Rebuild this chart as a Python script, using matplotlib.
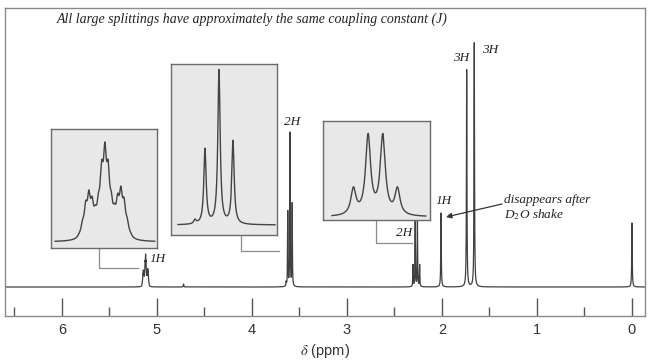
import numpy as np
import matplotlib
matplotlib.use("Agg")
import matplotlib.pyplot as plt

plt.rcParams['mathtext.fontset'] = 'stix'

W, H = 650, 362
MHZ = 300.0          # spectrometer frequency, Hz per ppm

# main spectrum: singlets (ppm, height in px above baseline)
singlet_ppm = [0.00, 1.66, 1.74, 2.01, 4.72]
singlet_h = [64, 244, 217, 74, 3]

# multiplets: offsets in Hz, relative intensities
m1_off = [7, 0, -7]                     # 5.12 ppm, triplet of septets
m1_int = [0.50, 1.0, 0.54]
sept_off = [-4.2, -2.8, -1.4, 0, 1.4, 2.8, 4.2]
sept_int = [1, 6, 15, 20, 15, 6, 1]
m2_off = [12, 7, 0, -7]                  # 3.60 ppm triplet
m2_int = [4, 75, 154, 83]
m3_off = [10.5, 3.5, -3.5, -10.5]        # 2.27 ppm quartet
m3_int = [26, 79, 79, 26]

multiplet_ppm = [5.12, 3.60, 2.27]
multiplet_h = [33, 155, 67]

ticks = [0, 1, 2, 3, 4, 5, 6]
minor_ticks = [0.5, 1.5, 2.5, 3.5, 4.5, 5.5, 6.5]


def lorentz(x, x0, a, g):
    return a * g**2 / (g**2 + (x - x0)**2)


def multiplet(x, offs, ints, g, fine=None):
    y = np.zeros_like(x)
    for o, a in zip(offs, ints):
        if fine is None:
            y += lorentz(x, o, a, g)
        else:
            for fo, fa in zip(*fine):
                y += lorentz(x, o + fo, a * fa, g)
    return y


fig = plt.figure(figsize=(W / 100, H / 100), dpi=100)


def box(x0, y0, x1, y1):
    return [x0 / W, (H - y1) / H, (x1 - x0) / W, (y1 - y0) / H]


ax = fig.add_axes(box(5, 8, 645, 316))
ax.set_xlim(6.6, -0.137)
ax.set_ylim(-29, 279)

# --- main trace
x = np.linspace(-0.137, 6.6, 60000)
g_main = 0.003
y = np.zeros_like(x)
for p, h in zip(singlet_ppm, singlet_h):
    y += lorentz(x, p, h, g_main)

specs = [(m1_off, m1_int, (sept_off, sept_int)),
         (m2_off, m2_int, None),
         (m3_off, m3_int, None)]
for p, h, (offs, ints, fine) in zip(multiplet_ppm, multiplet_h, specs):
    hz = (x - p) * MHZ
    sel = np.abs(hz) < 60
    m = multiplet(hz[sel], offs, ints, g_main * MHZ * 0.8, fine)
    y[sel] += m / m.max() * h

ax.plot(x, y, color='#404040', lw=0.9)

for s in ax.spines.values():
    s.set_color('#8a8a8a')
    s.set_linewidth(1)
ax.set_yticks([])
ax.set_xticks(ticks)
ax.set_xticks(minor_ticks, minor=True)
ax.tick_params(axis='x', which='major', direction='in', length=13, width=1,
               color='#555555', pad=5, labelsize=10.5, labelcolor='#333333')
ax.tick_params(axis='x', which='minor', direction='in', length=6.5, width=1,
               color='#555555')
for t in ax.get_xticklabels():
    t.set_family('Liberation Sans')
ax.set_xlabel(r'$\delta$ (ppm)', fontsize=10.5, family='Liberation Sans',
              color='#333333', labelpad=4)


def px(xp, yp):
    # figure pixel -> main data coords
    return 6 - (xp - 62) / 95.0, 287 - yp


serif = dict(family='Liberation Serif', style='italic', fontsize=9.5,
             color='#222222')

fig.text(57 / W, 1 - 19 / H,
         'All large splittings have approximately the same coupling constant (J)',
         ha='left', va='center', family='Liberation Serif', style='italic',
         fontsize=10, color='#222222')

labels = [('3H', 461, 58), ('3H', 490, 50), ('2H', 292, 122),
          ('2H', 404, 233), ('1H', 444, 201), ('1H', 158, 259)]
for txt, xp, yp in labels:
    ax.text(*px(xp, yp), txt, ha='center', va='center', **serif)

ax.text(*px(504, 200), 'disappears after', ha='left', va='center', **serif)
ax.text(*px(504, 215), r'D$_2$O shake', ha='left', va='center', **serif)
ax.annotate('', xy=px(446, 217), xytext=px(502, 204),
            arrowprops=dict(arrowstyle='-|>', color='#333333', lw=0.9,
                            mutation_scale=8, shrinkA=0, shrinkB=0))

# connectors from insets to peaks
conn = [[(99, 248), (99, 268), (138, 268)],
        [(241, 235), (241, 251), (279, 251)],
        [(376, 220), (376, 243), (412, 243)]]
for pts in conn:
    cx, cy = zip(*[px(a, b) for a, b in pts])
    ax.plot(cx, cy, color='#8a8a8a', lw=0.9, clip_on=False)

# --- insets
insets = [
    (box(51, 129, 157, 248), (23.6, -22.8), (-6, 113), 21.8, -21.8,
     m1_off, m1_int, (sept_off, sept_int), 0.8, 100),
    (box(171, 64, 277, 235), (24, -29), (-10, 161), 20.5, -28,
     m2_off, m2_int, None, 0.7, None),
    (box(323, 121, 430, 220), (25, -26), (-3, 96), 20.7, -24,
     m3_off, m3_int, None, 1.45, None),
]
for pos, xl, yl, xa, xb, offs, ints, fine, g, peak in insets:
    ia = fig.add_axes(pos)
    ia.set_facecolor('#e8e8e8')
    for s in ia.spines.values():
        s.set_color('#6a6a6a')
        s.set_linewidth(1)
    ia.set_xticks([])
    ia.set_yticks([])
    ia.set_xlim(*xl)
    ia.set_ylim(*yl)
    hz = np.linspace(xb, xa, 1500)
    m = multiplet(hz, offs, ints, g, fine)
    if peak is not None:
        m = m / m.max() * peak
    ia.plot(hz, m, color='#444444', lw=1)

fig.savefig('out.png', dpi=100)
